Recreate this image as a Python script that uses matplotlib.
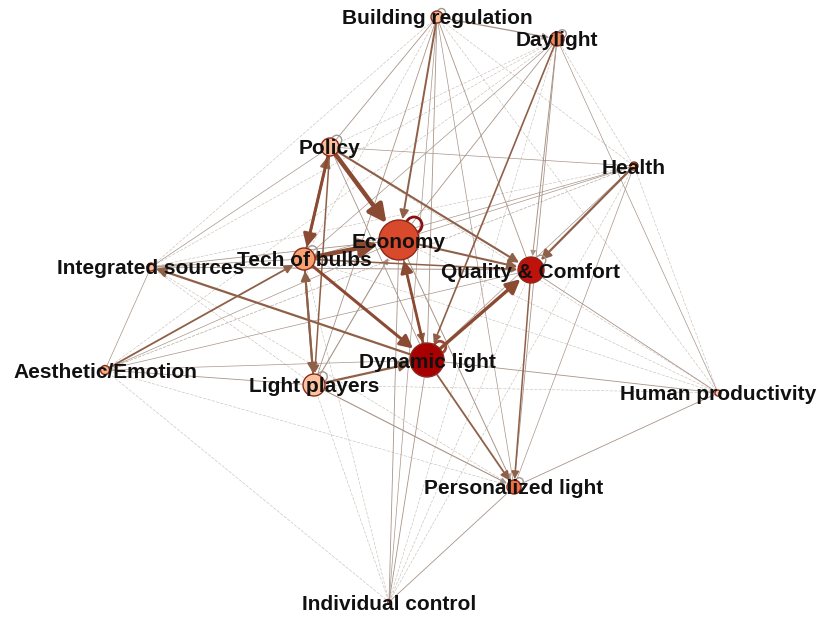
import numpy as np
import matplotlib
matplotlib.use("Agg")
import matplotlib.pyplot as plt
from matplotlib.patches import Circle, FancyArrowPatch

# nodes
names = ["Building regulation", "Daylight", "Policy", "Health", "Economy",
         "Tech of bulbs", "Integrated sources", "Quality & Comfort",
         "Dynamic light", "Aesthetic/Emotion", "Light players",
         "Human productivity", "Personalized light", "Individual control"]
keys = ["BR", "DL", "PO", "HE", "EC", "TB", "IS", "QC", "DY", "AE", "LP", "HP", "PL", "IC"]
size = [6, 7, 9, 4, 20, 11, 4, 13, 17, 4.5, 11, 3, 7, 1.2]
fill = ["#F9BE98", "#F08A5A", "#FDBF99", "#F7B48C", "#D94A2C", "#F9A070",
        "#F8C0A0", "#C0120C", "#A80000", "#F5B08A", "#FDC3A0", "#F8D0B0",
        "#EE6E45", "#F8D8C8"]

# edges: source, target, strength
strong = [("PO", "EC", 3.2), ("TB", "EC", 3.2), ("PO", "TB", 2.2), ("TB", "DY", 2.2),
          ("DY", "QC", 2.4), ("DY", "EC", 2.0)]
medium = [("TB", "PO", 1.6), ("LP", "TB", 1.5), ("TB", "LP", 1.5), ("PO", "QC", 1.5),
          ("EC", "QC", 1.5), ("LP", "DY", 1.6), ("DY", "IS", 1.6), ("AE", "TB", 1.3),
          ("BR", "EC", 1.4), ("HE", "QC", 1.6), ("DL", "DY", 1.2), ("EC", "DY", 1.2),
          ("PO", "LP", 1.1), ("DY", "PL", 1.3), ("TB", "QC", 1.1), ("QC", "PL", 1.1)]
thin = [("BR", "DL", 0.9), ("LP", "EC", 0.8), ("DL", "QC", 0.7), ("LP", "PL", 0.8),
        ("EC", "PL", 0.7), ("IS", "EC", 0.6), ("IS", "QC", 0.7), ("PO", "DY", 0.6),
        ("IC", "DY", 0.6), ("IC", "EC", 0.6), ("HP", "DY", 0.6), ("HP", "QC", 0.6),
        ("HP", "PL", 0.6), ("AE", "LP", 0.6), ("AE", "EC", 0.5), ("IS", "TB", 0.6),
        ("BR", "PO", 0.6), ("BR", "LP", 0.6), ("BR", "QC", 0.6), ("BR", "PL", 0.5),
        ("DL", "EC", 0.6), ("DL", "PL", 0.6), ("HE", "EC", 0.5), ("HE", "DY", 0.5),
        ("AE", "QC", 0.5), ("IC", "PL", 0.6), ("IS", "AE", 0.5), ("BR", "DY", 0.6),
        ("DL", "HP", 0.5), ("HE", "PO", 0.5), ("AE", "DY", 0.5), ("IC", "BR", 0.5),
        ("HE", "PL", 0.5), ("PO", "IS", 0.5), ("HE", "TB", 0.5), ("DL", "TB", 0.5)]
faint = [("BR", "TB", 0.4), ("BR", "IS", 0.4), ("BR", "HE", 0.4), ("DL", "PO", 0.4),
         ("DL", "IS", 0.4), ("DL", "AE", 0.4), ("DL", "HE", 0.4), ("DL", "IC", 0.4),
         ("HE", "IS", 0.4), ("HE", "AE", 0.4), ("HE", "HP", 0.4), ("HE", "IC", 0.4),
         ("IS", "DY", 0.4), ("IS", "PL", 0.4), ("AE", "IC", 0.4), ("HP", "EC", 0.4),
         ("HP", "TB", 0.4), ("HP", "LP", 0.4), ("IC", "QC", 0.4), ("IC", "TB", 0.4),
         ("PO", "HP", 0.4), ("AE", "PL", 0.4), ("IS", "LP", 0.4), ("AE", "HE", 0.4),
         ("IC", "LP", 0.4), ("BR", "HP", 0.4)]

# self loops: node, loop radius, colour
loops = [("BR", 4, "#A09890"), ("DL", 4, "#A09890"), ("PO", 5, "#A09890"),
         ("EC", 8, "#8B1010"), ("TB", 5, "#A09890"), ("QC", 5, "#A09890"),
         ("DY", 6, "#9B4A3A"), ("LP", 5, "#A09890"), ("PL", 4, "#A09890")]

# layout (pixel coordinates)
pos = {"BR": (437, 17), "DL": (557, 39), "PO": (330, 147), "HE": (634, 166),
       "EC": (399, 240), "TB": (304, 259), "IS": (151, 267), "QC": (531, 270),
       "DY": (427, 360), "AE": (105, 370), "LP": (314, 385), "HP": (718, 393),
       "PL": (514, 487), "IC": (389, 602)}
rad = dict(zip(keys, size))

fig = plt.figure(figsize=(8.2, 6.18), dpi=100)
ax = fig.add_axes([0, 0, 1, 1])
ax.set_xlim(0, 820)
ax.set_ylim(618, 0)
ax.axis("off")


def edge(a, b, w, color, ls="-", z=1, head=True):
    p, q = np.array(pos[a], float), np.array(pos[b], float)
    d = (q - p) / np.linalg.norm(q - p)
    p = p + d * rad[a]
    q = q - d * (rad[b] + 1)
    style = "-|>,head_length=0.6,head_width=0.3" if head else "-"
    arr = FancyArrowPatch(p, q, arrowstyle=style, mutation_scale=2 + 5 * w,
                          lw=w, color=color, linestyle=ls, zorder=z,
                          shrinkA=0, shrinkB=0)
    ax.add_patch(arr)


for a, b, w in faint:
    edge(a, b, w, "#C4BAB2", ls=(0, (5, 3)), z=1, head=False)
for a, b, w in thin:
    edge(a, b, w, "#A89488", z=2, head=w >= 0.7)
for a, b, w in medium:
    edge(a, b, w, "#8F6048", z=3)
for a, b, w in strong:
    edge(a, b, w, "#8B4A32", z=4)

for k, r, c in loops:
    x, y = pos[k]
    off = rad[k] * 0.75
    lw = 2.0 if k in ("EC", "DY") else 1.0
    ax.add_patch(Circle((x + off, y - off), r, fill=False, ec=c, lw=lw, zorder=5))

for k, c in zip(keys, fill):
    ax.add_patch(Circle(pos[k], rad[k], fc=c, ec="#8B2A1A", lw=1.0, zorder=6))

for k, n in zip(keys, names):
    x, y = pos[k]
    ax.text(x, y + 2, n, ha="center", va="center", fontsize=15,
            fontweight="bold", family="Liberation Sans", color="#111111", zorder=7)

fig.savefig("out.png", dpi=100, facecolor="white")
